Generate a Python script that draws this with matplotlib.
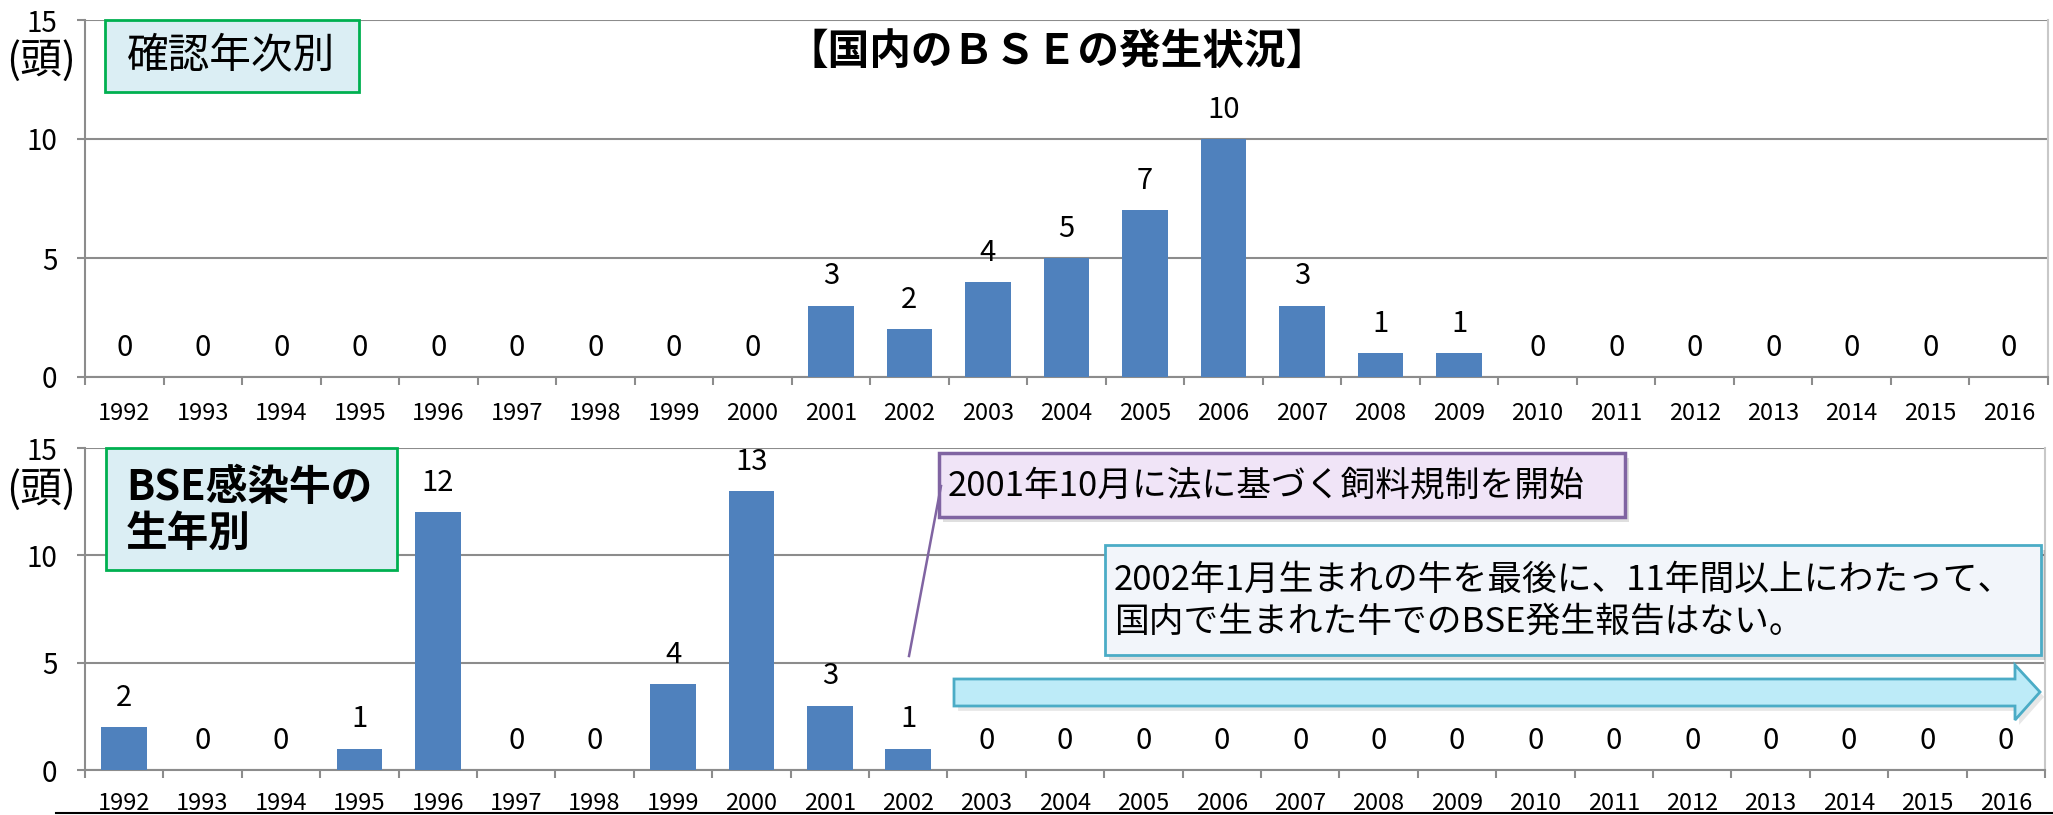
import matplotlib
matplotlib.use("Agg")
import matplotlib.pyplot as plt
import matplotlib.patches as mpatches
from matplotlib.lines import Line2D
import numpy as np

plt.rcParams['font.family'] = ['Noto Sans CJK JP', 'DejaVu Sans']

# data
years = [str(y) for y in range(1992, 2017)]
confirmed = [0, 0, 0, 0, 0, 0, 0, 0, 0, 3, 2, 4, 5, 7, 10, 3, 1, 1, 0, 0, 0, 0, 0, 0, 0]
born = [2, 0, 0, 1, 12, 0, 0, 4, 13, 3, 1, 0, 0, 0, 0, 0, 0, 0, 0, 0, 0, 0, 0, 0, 0]

title = "【国内のＢＳＥの発生状況】"
unit = "(頭)"
label_top = "確認年次別"
label_bottom = "BSE感染牛の\n生年別"
note_feed = "2001年10月に法に基づく飼料規制を開始"
note_none = "2002年1月生まれの牛を最後に、11年間以上にわたって、\n国内で生まれた牛でのBSE発生報告はない。"

W, H = 2053, 815
BAR = "#4F81BD"
GRID = "#8C8C8C"


def fx(px):
    return px / W


def fy(py):
    return 1 - py / H


def box(x0, y0, x1, y1, fc, ec, lw=2, shadow=False):
    if shadow:
        fig.add_artist(mpatches.Rectangle((fx(x0 + 4), fy(y1 + 5)), fx(x1) - fx(x0), fy(y0) - fy(y1),
                                          transform=fig.transFigure, fc="#00000020", ec="none"))
    fig.add_artist(mpatches.Rectangle((fx(x0), fy(y1)), fx(x1) - fx(x0), fy(y0) - fy(y1),
                                      transform=fig.transFigure, fc=fc, ec=ec, lw=lw))


fig = plt.figure(figsize=(W / 100, H / 100), dpi=100)

ax1 = fig.add_axes([fx(85), fy(377), fx(2048) - fx(85), fy(20) - fy(377)])
ax2 = fig.add_axes([fx(85), fy(770), fx(2045) - fx(85), fy(448) - fy(770)])

x = np.arange(len(years))
for ax, vals, xpad in ((ax1, confirmed, 18), (ax2, born, 16)):
    ax.bar(x, vals, width=0.58, color=BAR, zorder=3)
    ax.set_xlim(-0.5, len(years) - 0.5)
    ax.set_ylim(0, 15)
    ax.set_yticks([0, 5, 10, 15])
    ax.yaxis.grid(True, color=GRID, lw=1.5)
    ax.set_axisbelow(True)
    for s in ("left", "bottom"):
        ax.spines[s].set_color(GRID)
        ax.spines[s].set_linewidth(1.5)
    ax.spines["top"].set_visible(False)
    ax.spines["right"].set_color("#C8C8C8")
    ax.spines["right"].set_linewidth(1.5)

    ax.set_xticks(x)
    ax.set_xticklabels(years, fontsize=17)
    ax.tick_params(axis="x", which="major", length=0, pad=xpad)
    ax.set_xticks(np.arange(-0.5, len(years), 1), minor=True)
    ax.tick_params(axis="x", which="minor", length=6, width=1.5, color=GRID, direction="out")
    ax.tick_params(axis="y", length=6, width=1.5, color=GRID, labelsize=20, pad=14)

    for xi, v in zip(x, vals):
        ax.annotate(str(v), (xi, v), xytext=(0, 21), textcoords="offset points",
                    ha="center", va="center", fontsize=21)

# title and unit labels
fig.text(fx(1057), fy(52), title, ha="center", va="center", fontsize=30, fontweight="bold")
fig.text(fx(41), fy(61), unit, ha="center", va="center", fontsize=30)
fig.text(fx(41), fy(490), unit, ha="center", va="center", fontsize=30)

# panel labels
box(105, 20, 359, 92, "#DBEEF4", "#00B050")
fig.text(fx(231), fy(56), label_top, ha="center", va="center", fontsize=30)
box(106, 448, 397, 570, "#DBEEF4", "#00B050")
fig.text(fx(126), fy(511), label_bottom, ha="left", va="center", fontsize=30,
         fontweight="bold", linespacing=1.1)

# feed regulation callout
fig.add_artist(Line2D([fx(941), fx(909)], [fy(486), fy(656)], transform=fig.transFigure,
                      color="#8064A2", lw=1.8))
box(939, 453, 1625, 517, "#F0E4F7", "#8064A2", lw=2.5, shadow=True)
fig.text(fx(948), fy(486), note_feed, ha="left", va="center", fontsize=25)

# no cases callout
box(1105, 545, 2041, 655, "#F2F5FA", "#4BACC6", lw=2, shadow=True)
fig.text(fx(1114), fy(601), note_none, ha="left", va="center", fontsize=25, linespacing=1.25)

# arrow
arrow_px = [(954, 679), (2015, 679), (2015, 665), (2040, 692), (2015, 720), (2015, 706), (954, 706)]
fig.add_artist(mpatches.Polygon([(fx(a) + 0.002, fy(b) - 0.006) for a, b in arrow_px],
                                transform=fig.transFigure, fc="#00000018", ec="none"))
fig.add_artist(mpatches.Polygon([(fx(a), fy(b)) for a, b in arrow_px], transform=fig.transFigure,
                                fc="#BDEBF8", ec="#4BACC6", lw=2))

fig.add_artist(Line2D([fx(56), 1], [fy(813), fy(813)], transform=fig.transFigure, color="black", lw=1.5))

fig.savefig("out.png", dpi=100)
